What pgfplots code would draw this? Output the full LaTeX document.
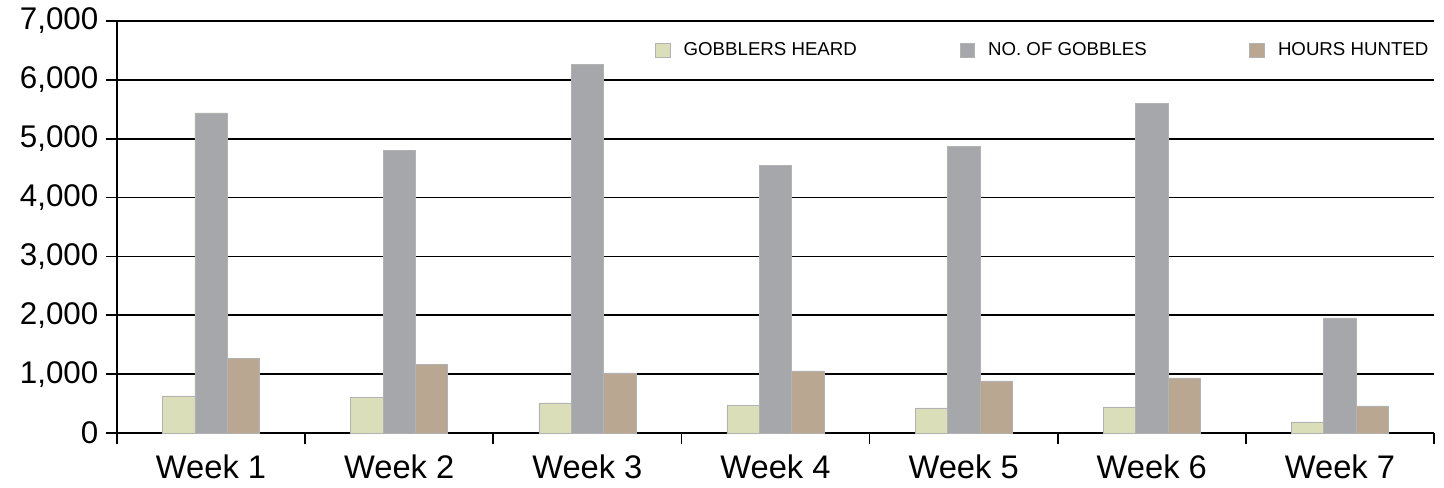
\documentclass[border=0pt]{standalone}
\usepackage{fontspec}
\setmainfont{Liberation Sans}
\usepackage{pgfplots}
\pgfplotsset{compat=1.18}
\definecolor{cgreen}{RGB}{218,223,186}
\definecolor{cgray}{RGB}{166,167,171}
\definecolor{cbrown}{RGB}{185,167,146}
\begin{document}
\begin{tikzpicture}
\begin{axis}[
  at={(0,0)}, anchor=south west,
  scale only axis, width=987.75pt, height=309pt,
  xmin=-0.5, xmax=6.5, ymin=0, ymax=7000,
  axis x line=bottom, axis y line=left,
  axis line style={-, line width=1.2pt, black},
  xtick={-0.5,0.5,1.5,2.5,3.5,4.5,5.5,6.5},
  xticklabels={},
  extra x ticks={0,1,2,3,4,5,6},
  extra x tick labels={Week 1,Week 2,Week 3,Week 4,Week 5,Week 6,Week 7},
  extra x tick style={major tick length=0pt, xticklabel style={font=\fontsize{24.5}{28}\selectfont, yshift=-13pt}},
  ytick={0,1000,2000,3000,4000,5000,6000,7000},
  scaled y ticks=false,
  /pgf/number format/.cd, 1000 sep={,}, assume math mode=true, /pgfplots/.cd,
  yticklabel style={font=\fontsize{23.5}{27}\selectfont, xshift=-2pt},
  tick align=outside,
  major tick length=8.5pt,
  tick style={black, line width=1.2pt},
  ymajorgrids,
  major grid style={black, line width=1.2pt},
  legend columns=3,
  legend style={at={(rel axis cs:1,1)}, anchor=north east, xshift=-2pt, yshift=-14pt,
    draw=none, fill=none, inner sep=0pt,
    font=\fontsize{14}{16}\selectfont,
    /tikz/every odd column/.append style={column sep=8pt},
    /tikz/every even column/.append style={column sep=75pt}},
  legend image code/.code={\fill[#1] (0pt,-5.5pt) rectangle (11pt,5.5pt);},
]
\addplot[ybar, bar width=0.172, bar shift=-0.172, fill=cgreen, draw=black!30, line width=0.4pt]
  coordinates {(0,630) (1,600) (2,510) (3,475) (4,425) (5,445) (6,190)};
\addlegendentry{GOBBLERS HEARD}
\addplot[ybar, bar width=0.172, bar shift=0, fill=cgray, draw=black!30, line width=0.4pt]
  coordinates {(0,5440) (1,4800) (2,6260) (3,4545) (4,4870) (5,5600) (6,1955)};
\addlegendentry{NO. OF GOBBLES}
\addplot[ybar, bar width=0.172, bar shift=0.172, fill=cbrown, draw=black!30, line width=0.4pt]
  coordinates {(0,1270) (1,1160) (2,1020) (3,1055) (4,885) (5,935) (6,460)};
\addlegendentry{HOURS HUNTED}
\end{axis}
\pgfresetboundingbox
\path (-87.75pt,-40.5pt) rectangle (995.25pt,324.75pt);
\end{tikzpicture}
\end{document}
